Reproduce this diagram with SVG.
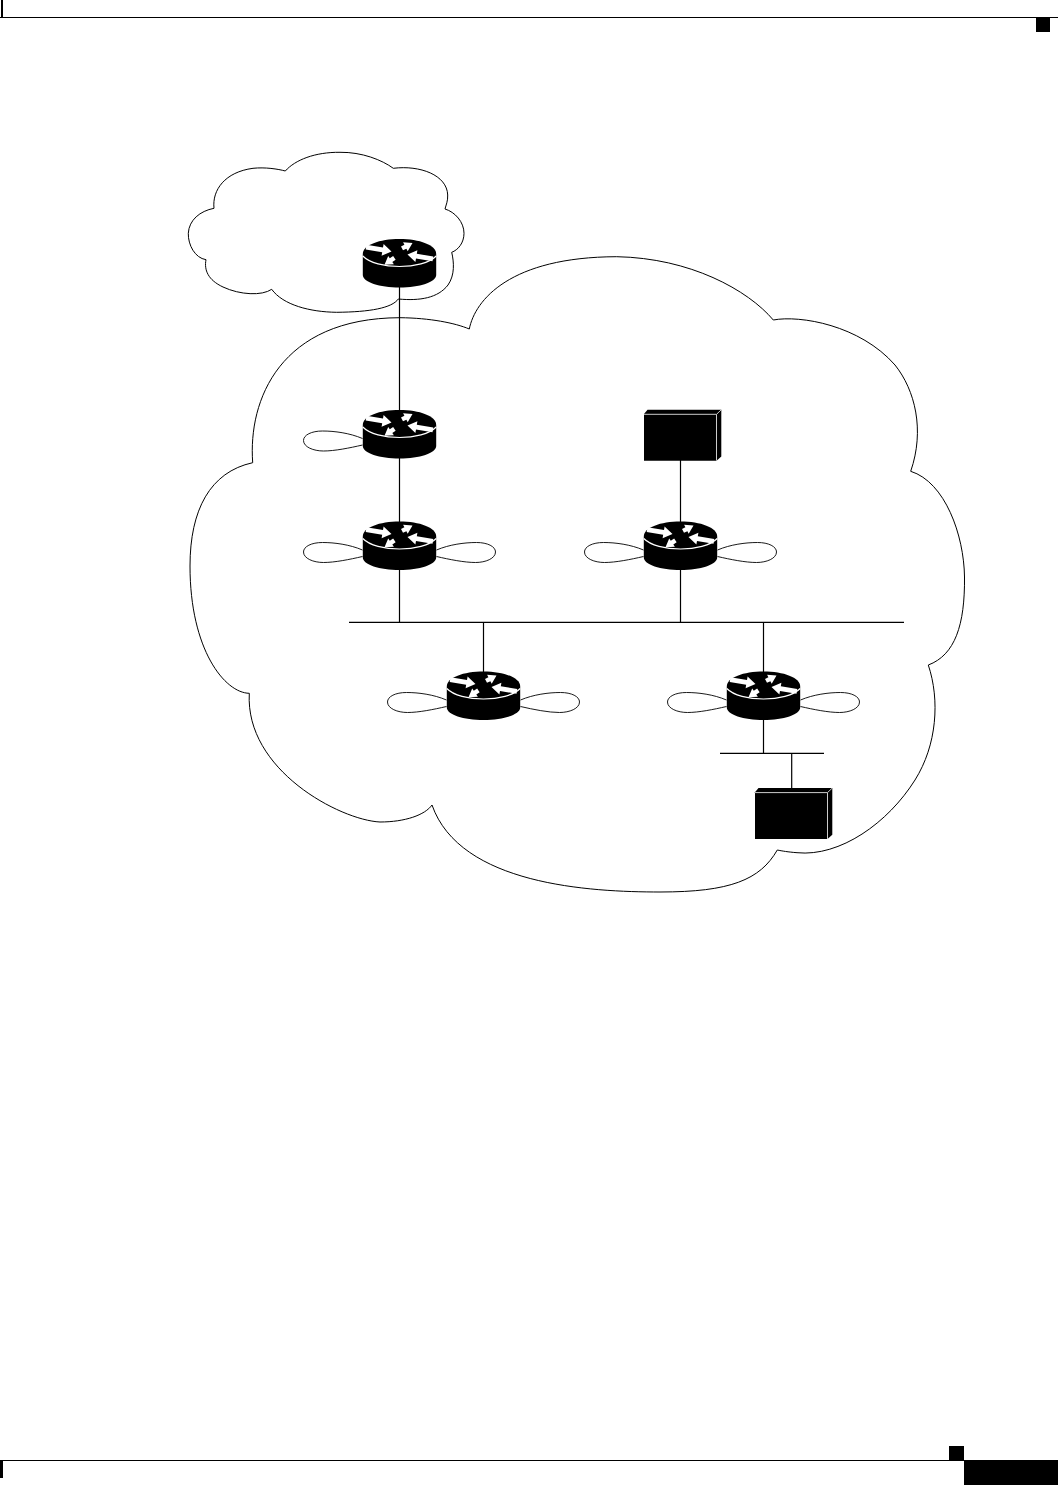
<svg xmlns="http://www.w3.org/2000/svg" width="1058" height="1485" viewBox="0 0 1058 1485">
<style>
.sky{fill:none;stroke:#000;stroke-width:1}
.link{stroke:#000;stroke-width:1.2;fill:none}
.loop{fill:none;stroke:#000;stroke-width:.9}
.rim{fill:none;stroke:#fff;stroke-width:1.2}
.edge{fill:none;stroke:#ccc;stroke-width:1}
.ink{fill:#000}
.glyph{fill:#fff}
</style>
<defs>
<g id="router">
<path class="ink" d="M-36.7,1 C-36.7,-8 -20,-14 0,-14 C20,-14 36.7,-8 36.7,1 V22 C36.7,29 20,34.5 0,34.5 C-20,34.5 -36.7,29 -36.7,22 Z"/>
<path class="rim" d="M-36.7,3 C-30,10 -15,13.5 0,13.5 C15,13.5 30,10 36.7,3"/>
<polygon class="glyph" points="-33,-8.3 -16.5,-5.47 -15.9,-9 -8,-1.6 -17.9,2.8 -17.3,-0.73 -33.8,-3.6"/>
<polygon class="glyph" points="33,8.3 16.5,5.47 15.9,9 8,1.6 17.9,-2.8 17.3,0.73 33.8,3.6"/>
<polygon class="glyph" points="1.5,-6.6 4.9,-8.26 3.6,-10.75 13,-10 8.2,-1.85 6.9,-4.34 3.5,-2.66"/>
<polygon class="glyph" points="-3.86,6.64 -7.2,8.94 -5.6,11.24 -15,11.7 -11.3,3.04 -9.7,5.34 -6.36,3.04"/>
</g>
<path id="loopL" class="loop" d="M-37,14.5 C-50,9 -65,7 -77,7 C-88,7 -96,11 -96,16.5 C-96,23 -86,27 -76,27 C-65,27 -50,24 -37,21"/>
<path id="loopR" class="loop" d="M37,14.5 C50,9 65,7 77,7 C88,7 96,11 96,16.5 C96,23 86,27 76,27 C65,27 50,24 37,21"/>
<g id="box">
<polygon class="ink" points="644,460.7 644,414 647.5,409.7 721.3,409.7 721.3,456.5 716.5,460.7"/>
<path class="edge" d="M644,414.3 H716.5 V460.7 M716.5,414.3 L721,410"/>
</g>
</defs>

<g id="page-frame">
<rect class="ink" x="1" y="0" width="2" height="17"/>
<rect class="ink" x="0" y="17" width="1058" height="1"/>
<rect class="ink" x="1036" y="18" width="14" height="14"/>
<rect class="ink" x="0" y="1460" width="964" height="1"/>
<rect class="ink" x="0" y="1460" width="3" height="18"/>
<rect class="ink" x="949" y="1446" width="15" height="14"/>
<rect class="ink" x="964" y="1460" width="94" height="25"/>
</g>

<g id="cloud-external">
<path class="sky" d="M285.3,171 C295,160 315,152 340,152.3 C362,152 382,160 393.3,168.3 C420,165 447,175 447.7,195 C448,201 446,205 445,209 C455,212 464,222 464,233.3 C464,243 458,250 451.7,252.3 C454,262 455,275 448,285 C438,298 420,301 398.3,299 C392,308 370,312 336.7,312.3 C310,312 283,305 271.7,289.3 C262,296 240,295 223,287 C208,280 204,270 206,259.7 C195,258 188,245 188.3,233.3 C189,220 200,211 214,208.3 C212,190 225,172 253,168.3 C265,167 278,169 285.3,171 Z"/>
</g>
<g id="cloud-main">
<path class="sky" d="M469.3,329 C475,300 510,257 616.7,256.7 C690,258 748,290 773.3,320 C800,315 860,325 895,365 C915,390 925,430 910.7,471.3 C945,482 964,535 964.5,577 C965,625 955,655 928.3,665 C940,700 937,745 915,780 C888,823 840,857 797,852.7 C788,852 782,851 777.3,850 C760,880 730,892 660,892 C590,892 460,885 432,805 C425,815 405,822 380,822 C340,820 245,770 249.3,693.3 C225,693 190,650 190,566 C190,510 210,472 252.7,462.7 C248,400 280,318 400,317.7 C430,318 455,323 469.3,329 Z"/>
</g>

<g id="connectors">
<path class="link" d="M399.5,287 V411 M399.5,458 V523 M399.5,569 V622"/>
<path class="link" d="M680.5,460 V523 M680.5,569 V622"/>
<path class="link" d="M349,622.3 H904"/>
<path class="link" d="M483.5,622 V672 M763.5,622 V672 M763.5,719 V753"/>
<path class="link" d="M720,753.3 H824"/>
<path class="link" d="M791.7,753 V789"/>
</g>

<g id="router-1"><use href="#router" x="399.5" y="253"/></g>
<g id="router-2"><use href="#loopL" x="399.5" y="424"/><use href="#router" x="399.5" y="424"/></g>
<g id="router-3"><use href="#loopL" x="399.5" y="535.5"/><use href="#loopR" x="399.5" y="535.5"/><use href="#router" x="399.5" y="535.5"/></g>
<g id="router-4"><use href="#loopL" x="680.5" y="535.5"/><use href="#loopR" x="680.5" y="535.5"/><use href="#router" x="680.5" y="535.5"/></g>
<g id="router-5"><use href="#loopL" x="483.5" y="685.5"/><use href="#loopR" x="483.5" y="685.5"/><use href="#router" x="483.5" y="685.5"/></g>
<g id="router-6"><use href="#loopL" x="763.5" y="685.5"/><use href="#loopR" x="763.5" y="685.5"/><use href="#router" x="763.5" y="685.5"/></g>
<g id="box-1"><use href="#box"/></g>
<g id="box-2"><use href="#box" x="111" y="378.3"/></g>
</svg>
